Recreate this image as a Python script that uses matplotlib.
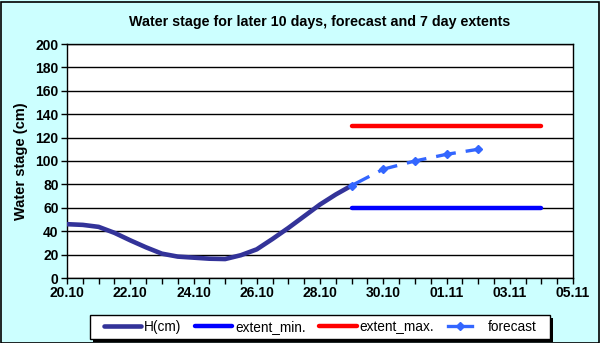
import datetime as dt
import matplotlib
matplotlib.use("Agg")
import matplotlib.pyplot as plt
import matplotlib.dates as mdates
from matplotlib.patches import Rectangle
from matplotlib.lines import Line2D
from matplotlib.legend_handler import HandlerLine2D

plt.rcParams['font.family'] = ['Liberation Sans', 'DejaVu Sans']

# ---- data ----
year = 2010
h_times = ["20.10 00", "20.10 12", "21.10 00", "21.10 12", "22.10 00", "22.10 12",
           "23.10 00", "23.10 12", "24.10 00", "24.10 12", "25.10 00", "25.10 12",
           "26.10 00", "26.10 12", "27.10 00", "27.10 12", "28.10 00", "28.10 12",
           "29.10 00"]
h_values = [46, 45.4, 43.7, 38.6, 32.2, 26.2, 20.8, 18.3, 17.4, 16.5, 16.2, 19.5,
            24.5, 33.4, 42.8, 52.8, 62.8, 71.4, 79]

fc_dates = ["29.10", "30.10", "31.10", "01.11", "02.11"]
fc_values = [79, 93, 100, 105.7, 110]

ext_dates = ["29.10", "04.11"]
ext_min = [60, 60]
ext_max = [130, 130]

x_start, x_end = "20.10", "05.11"
y_ticks = list(range(0, 201, 20))

title = "Water stage for later 10 days, forecast and 7 day extents"
ylabel = "Water stage (cm)"
labels = ["H(cm)", "extent_min.", "extent_max.", "forecast"]


def d(s):
    return dt.datetime.strptime(f"{s}.{year}", "%d.%m.%Y")


def dh(s):
    return dt.datetime.strptime(f"{s} {year}", "%d.%m %H %Y")


class ShortHandler(HandlerLine2D):
    def create_artists(self, legend, orig_handle, xdescent, ydescent, width,
                       height, fontsize, trans):
        return super().create_artists(legend, orig_handle, xdescent, ydescent,
                                      width * 0.65, height, fontsize, trans)


# ---- figure ----
W, H = 600, 343
fig = plt.figure(figsize=(W / 100, H / 100), dpi=100)
fig.patch.set_facecolor('#CCFFFF')
fig.patches.append(Rectangle((0.5 / W, 0.5 / H), 1 - 2 / W, 1 - 2 / H,
                             transform=fig.transFigure, fill=False,
                             edgecolor='black', linewidth=1.2, zorder=10))

L, R, T, B = 67, 573, 44, 278
ax = fig.add_axes([L / W, 1 - B / H, (R - L) / W, (B - T) / H])
ax.set_facecolor('white')

h_col, min_col, max_col, fc_col = '#333399', '#0000FF', '#FF0000', '#3366FF'

l1, = ax.plot([dh(t) for t in h_times], h_values, color=h_col, lw=3.3,
              solid_capstyle='round', solid_joinstyle='round', zorder=4)
l2, = ax.plot([d(t) for t in ext_dates], ext_min, color=min_col, lw=3.2,
              solid_capstyle='round', zorder=3)
l3, = ax.plot([d(t) for t in ext_dates], ext_max, color=max_col, lw=3.2,
              solid_capstyle='round', zorder=3)
l4, = ax.plot([d(t) for t in fc_dates], fc_values, color=fc_col, lw=2.4,
              dashes=(6, 3), marker='D', markersize=4, zorder=5)

ax.set_xlim(d(x_start), d(x_end))
ax.set_ylim(0, 200)
ax.set_yticks(y_ticks)
ax.grid(axis='y', color='black', lw=1)
ax.set_axisbelow(True)

ax.xaxis.set_major_locator(mdates.DayLocator(interval=2))
ax.xaxis.set_major_formatter(mdates.DateFormatter('%d.%m'))
ax.xaxis.set_minor_locator(mdates.HourLocator(byhour=[0, 12]))

for s in ax.spines.values():
    s.set_color('black')
    s.set_linewidth(1)

ax.tick_params(axis='both', which='both', direction='out', length=4, width=1,
               color='black')
ax.tick_params(axis='both', which='major', labelsize=10, pad=2)
for lab in ax.get_xticklabels() + ax.get_yticklabels():
    lab.set_fontweight('bold')

ax.set_ylabel(ylabel, fontsize=10.5, fontweight='bold', labelpad=5)
fig.text((L + R) / 2 / W, 1 - 22 / H, title, ha='center', va='center',
         fontsize=10.3, fontweight='bold')

# legend box with black shadow
lx0, lx1, ly0, ly1 = 90, 550, 315, 339
fig.patches.append(Rectangle(((lx0 + 3) / W, 1 - (ly1 + 3) / H),
                             (lx1 - lx0) / W, (ly1 - ly0) / H,
                             transform=fig.transFigure, facecolor='black',
                             edgecolor='black', lw=0, zorder=5))
fig.patches.append(Rectangle((lx0 / W, 1 - ly1 / H),
                             (lx1 - lx0) / W, (ly1 - ly0) / H,
                             transform=fig.transFigure, facecolor='white',
                             edgecolor='black', lw=1, zorder=6))

p4 = Line2D([], [], color=fc_col, lw=2.4, marker='D', markersize=4)
leg = fig.legend([l1, l2, l3, p4], labels, loc='center',
                 bbox_to_anchor=((lx0 + lx1) / 2 / W, 1 - (ly0 + ly1) / 2 / H),
                 ncol=4, fontsize=9.8, frameon=False,
                 handlelength=2.75, handletextpad=0.2, columnspacing=1.0,
                 borderpad=0, borderaxespad=0,
                 handler_map={p4: ShortHandler()})
leg.set_zorder(7)

fig.savefig('out.png', dpi=100, facecolor=fig.get_facecolor())
